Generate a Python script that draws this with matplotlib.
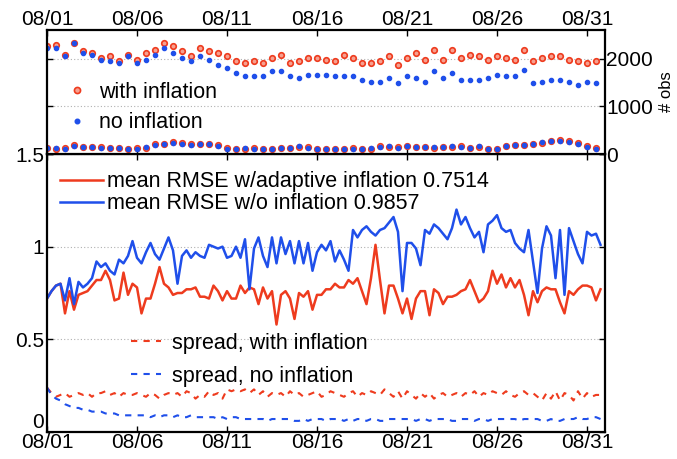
import numpy as np
import matplotlib
matplotlib.use("Agg")
import matplotlib.pyplot as plt

plt.rcParams['font.family'] = ['Liberation Sans', 'DejaVu Sans']

# ---------------- data ----------------
date_labels = ["08/01", "08/06", "08/11", "08/16", "08/21", "08/26", "08/31"]
date_ticks_days = [0, 5, 10, 15, 20, 25, 30]

# 6-hourly RMSE / spread, Aug 1 00Z .. Aug 31 18Z
rmse_infl = [
    0.72, 0.76, 0.79, 0.80, 0.64, 0.76, 0.66, 0.74, 0.75, 0.76, 0.79, 0.82,
    0.82, 0.87, 0.82, 0.71, 0.72, 0.86, 0.74, 0.80, 0.78, 0.64, 0.72, 0.72,
    0.80, 0.89, 0.80, 0.78, 0.74, 0.75, 0.75, 0.77, 0.77, 0.78, 0.73, 0.73,
    0.72, 0.79, 0.76, 0.71, 0.76, 0.72, 0.72, 0.79, 0.75, 0.78, 0.77, 0.69,
    0.78, 0.72, 0.76, 0.58, 0.74, 0.76, 0.72, 0.61, 0.75, 0.73, 0.76, 0.66,
    0.74, 0.74, 0.77, 0.77, 0.80, 0.78, 0.78, 0.82, 0.80, 0.83, 0.76, 0.69,
    0.83, 1.01, 0.82, 0.64, 0.79, 0.79, 0.72, 0.64, 0.72, 0.61, 0.72, 0.76,
    0.76, 0.63, 0.77, 0.75, 0.69, 0.73, 0.73, 0.74, 0.76, 0.77, 0.82, 0.76,
    0.70, 0.72, 0.76, 0.87, 0.80, 0.85, 0.78, 0.83, 0.78, 0.82, 0.74, 0.63,
    0.76, 0.70, 0.76, 0.78, 0.77, 0.77, 0.70, 0.64, 0.76, 0.74, 0.77, 0.79,
    0.79, 0.78, 0.71, 0.77]
rmse_noinfl = [
    0.72, 0.76, 0.79, 0.80, 0.71, 0.83, 0.69, 0.81, 0.78, 0.80, 0.83, 0.92,
    0.89, 0.91, 0.87, 0.85, 0.93, 0.91, 0.95, 1.03, 0.94, 0.91, 0.97, 1.02,
    0.96, 0.93, 0.99, 1.05, 0.98, 0.80, 0.95, 0.98, 0.94, 0.97, 0.95, 0.94,
    1.01, 1.00, 0.99, 1.00, 0.94, 0.95, 1.00, 0.94, 1.04, 0.77, 0.99, 1.05,
    0.95, 0.89, 1.05, 0.91, 1.05, 0.96, 1.03, 0.91, 1.03, 0.91, 1.02, 0.87,
    0.97, 1.01, 0.98, 1.03, 0.92, 0.98, 0.93, 0.87, 1.09, 1.05, 1.09, 1.11,
    1.08, 1.06, 1.09, 1.10, 1.13, 1.16, 1.08, 0.76, 1.02, 1.02, 0.99, 0.90,
    1.09, 1.07, 1.12, 1.10, 1.07, 1.04, 1.10, 1.20, 1.12, 1.16, 1.10, 1.05,
    1.08, 0.97, 1.12, 1.14, 1.17, 1.10, 1.08, 1.09, 1.02, 0.99, 0.97, 1.09,
    0.92, 0.75, 0.99, 1.11, 1.06, 0.83, 1.09, 0.74, 1.10, 1.03, 0.96, 0.91,
    1.08, 1.06, 1.07, 1.01]
spread_infl = [
    0.24, 0.21, 0.19, 0.20, 0.21, 0.19, 0.20, 0.21, 0.20, 0.21, 0.19, 0.21,
    0.21, 0.22, 0.20, 0.21, 0.19, 0.21, 0.20, 0.20, 0.21, 0.20, 0.19, 0.21,
    0.20, 0.18, 0.20, 0.21, 0.20, 0.21, 0.19, 0.22, 0.21, 0.18, 0.20, 0.19,
    0.22, 0.20, 0.21, 0.18, 0.23, 0.22, 0.23, 0.22, 0.23, 0.21, 0.23, 0.20,
    0.22, 0.19, 0.21, 0.20, 0.21, 0.19, 0.22, 0.20, 0.21, 0.19, 0.20, 0.21,
    0.22, 0.19, 0.20, 0.22, 0.21, 0.20, 0.19, 0.21, 0.22, 0.19, 0.21, 0.20,
    0.22, 0.21, 0.20, 0.23, 0.21, 0.19, 0.22, 0.18, 0.22, 0.20, 0.18, 0.21,
    0.19, 0.21, 0.18, 0.20, 0.21, 0.19, 0.20, 0.21, 0.19, 0.21, 0.20, 0.22,
    0.19, 0.21, 0.20, 0.22, 0.21, 0.20, 0.22, 0.20, 0.19, 0.21, 0.22, 0.20,
    0.21, 0.19, 0.17, 0.21, 0.18, 0.22, 0.17, 0.21, 0.20, 0.17, 0.22, 0.18,
    0.21, 0.19, 0.20, 0.20]
spread_noinfl = [
    0.24, 0.20, 0.18, 0.17, 0.15, 0.14, 0.13, 0.13, 0.12, 0.12, 0.11, 0.11,
    0.11, 0.10, 0.10, 0.10, 0.09, 0.09, 0.09, 0.09, 0.09, 0.09, 0.09, 0.08,
    0.09, 0.08, 0.09, 0.09, 0.08, 0.09, 0.08, 0.08, 0.09, 0.08, 0.08, 0.08,
    0.08, 0.08, 0.07, 0.08, 0.07, 0.08, 0.08, 0.07, 0.07, 0.07, 0.07, 0.07,
    0.07, 0.06, 0.07, 0.07, 0.07, 0.07, 0.07, 0.06, 0.06, 0.07, 0.06, 0.07,
    0.07, 0.07, 0.06, 0.07, 0.07, 0.07, 0.06, 0.07, 0.06, 0.07, 0.07, 0.06,
    0.07, 0.07, 0.06, 0.06, 0.07, 0.07, 0.07, 0.07, 0.07, 0.07, 0.06, 0.07,
    0.07, 0.06, 0.07, 0.07, 0.07, 0.07, 0.06, 0.06, 0.07, 0.07, 0.07, 0.06,
    0.07, 0.07, 0.06, 0.07, 0.07, 0.07, 0.07, 0.07, 0.07, 0.06, 0.07, 0.07,
    0.07, 0.07, 0.06, 0.06, 0.07, 0.06, 0.06, 0.07, 0.07, 0.07, 0.08, 0.07,
    0.07, 0.08, 0.08, 0.07]

# 12-hourly observation counts
nobs_used_infl = [
    2260, 2295, 2085, 2330, 2155, 2120, 2015, 2050, 1945, 2085, 1980, 2120,
    2190, 2330, 2260, 2155, 2050, 2225, 2155, 2120, 2050, 1945, 1910, 1945,
    1910, 2015, 2085, 1910, 1945, 2015, 2015, 1980, 1945, 2085, 2015, 1910,
    1910, 1945, 2050, 1875, 2015, 2120, 1980, 2190, 1980, 2190, 2015, 2085,
    2050, 1980, 2050, 2015, 1980, 2190, 1945, 2015, 2050, 2050, 1980, 1945,
    1910, 1945]
nobs_used_noinfl = [
    2225, 2225, 2050, 2330, 2120, 2085, 1980, 1945, 1910, 2050, 1910, 1980,
    2085, 2225, 2120, 2015, 1945, 2050, 1980, 1875, 1805, 1700, 1630, 1630,
    1630, 1735, 1735, 1630, 1595, 1665, 1665, 1665, 1630, 1630, 1630, 1560,
    1520, 1520, 1595, 1490, 1630, 1595, 1520, 1735, 1595, 1700, 1560, 1560,
    1560, 1595, 1665, 1630, 1630, 1770, 1490, 1520, 1560, 1560, 1520, 1450,
    1520, 1490]
nobs_rej_infl = [
    120, 110, 130, 190, 150, 140, 150, 130, 120, 110, 120, 130,
    200, 220, 250, 230, 200, 210, 220, 180, 120, 110, 110, 120,
    100, 110, 120, 130, 150, 140, 110, 100, 100, 110, 120, 100,
    110, 160, 150, 140, 170, 140, 150, 130, 150, 140, 160, 130,
    140, 110, 100, 170, 180, 190, 210, 240, 280, 290, 280, 230,
    160, 120]
nobs_rej_noinfl = [
    130, 120, 110, 170, 140, 150, 130, 120, 130, 110, 110, 140,
    190, 210, 240, 220, 190, 200, 210, 160, 110, 100, 120, 110,
    110, 100, 130, 120, 160, 130, 100, 110, 110, 100, 110, 110,
    120, 150, 170, 130, 160, 150, 140, 140, 140, 160, 150, 120,
    170, 100, 110, 160, 190, 180, 220, 250, 270, 280, 260, 210,
    150, 110]

label_rmse_infl = "mean RMSE w/adaptive inflation 0.7514"
label_rmse_noinfl = "mean RMSE w/o inflation 0.9857"

# ---------------- plot ----------------
RED = "#ee3b1e"
BLUE = "#1f4fea"
FS = 15
LFS = 15.5

t6 = np.arange(len(rmse_infl)) * 0.25
t12 = np.arange(len(nobs_used_infl)) * 0.5

fig = plt.figure(figsize=(6.77, 4.59), dpi=100)
L, R = 47 / 677, 605 / 677
yb0, yb1 = 1 - 432 / 459, 1 - 154 / 459
yt1 = 1 - 30 / 459
ax = fig.add_axes([L, yb0, R - L, yb1 - yb0])
axt = fig.add_axes([L, yb1, R - L, yt1 - yb1])

for a in (ax, axt):
    a.set_xlim(0, 31)
    a.set_xticks(date_ticks_days)
    for s in a.spines.values():
        s.set_linewidth(1.6)
    a.tick_params(direction='in', length=4, width=1, labelsize=FS, pad=1)

# bottom panel
ax.plot(t6, rmse_infl, color=RED, lw=1.8, label=label_rmse_infl)
ax.plot(t6, rmse_noinfl, color=BLUE, lw=1.8, label=label_rmse_noinfl)
ax.plot(t6, spread_infl, color=RED, lw=1.5, ls=(0, (3, 3)), label="spread, with inflation")
ax.plot(t6, spread_noinfl, color=BLUE, lw=1.5, ls=(0, (3, 3)), label="spread, no inflation")
ax.set_ylim(0, 1.5)
ax.set_yticks([0, 0.5, 1, 1.5])
ax.set_yticklabels(["0", "0.5", "1", "1.5"])
ax.get_yticklabels()[0].set_verticalalignment('bottom')
ax.set_xticklabels(date_labels)
ax.tick_params(top=True, right=True)
ax.tick_params(axis='y', pad=2)
ax.yaxis.grid(True, ls=(0, (1, 2)), color="#b0b0b0", lw=0.8)

h = ax.get_legend_handles_labels()
leg1 = ax.legend(h[0][:2], h[1][:2], loc='upper left', bbox_to_anchor=(0.0, 0.985),
                 frameon=False, fontsize=LFS, handlelength=2.0, handletextpad=0.2,
                 labelspacing=0.05, borderaxespad=0.2)
ax.add_artist(leg1)
ax.legend(h[0][2:], h[1][2:], loc='lower left', bbox_to_anchor=(0.116, 0.093),
          frameon=False, fontsize=LFS, handlelength=1.4, handletextpad=0.5,
          labelspacing=0.55)

# top panel
axt.plot(t12, nobs_used_infl, 'o', color=RED, ms=4, mfc='#f6a090', mew=1.2, label="with inflation")
axt.plot(t12, nobs_used_noinfl, '.', color=BLUE, ms=6, label="no inflation")
axt.plot(t12, nobs_rej_infl, 'o', color=RED, ms=4, mfc='#f6a090', mew=1.2)
axt.plot(t12, nobs_rej_noinfl, '.', color=BLUE, ms=6)
axt.set_ylim(0, 2600)
axt.set_yticks([0, 1000, 2000])
axt.yaxis.grid(True, ls=(0, (1, 2)), color="#b0b0b0", lw=0.8)
axt.tick_params(left=True, right=True, labelleft=False, labelright=True,
                top=True, bottom=True, labeltop=True, labelbottom=False)
axt.set_xticklabels(date_labels)
axt.yaxis.set_label_position('right')
axt.set_ylabel("# obs", fontsize=FS - 3, labelpad=4)
axt.legend(loc='upper left', bbox_to_anchor=(0.0, 0.74), frameon=False, fontsize=LFS,
           handlelength=1.0, handletextpad=0.5, labelspacing=0.45, markerscale=1.1)

fig.savefig("out.png", dpi=100)
